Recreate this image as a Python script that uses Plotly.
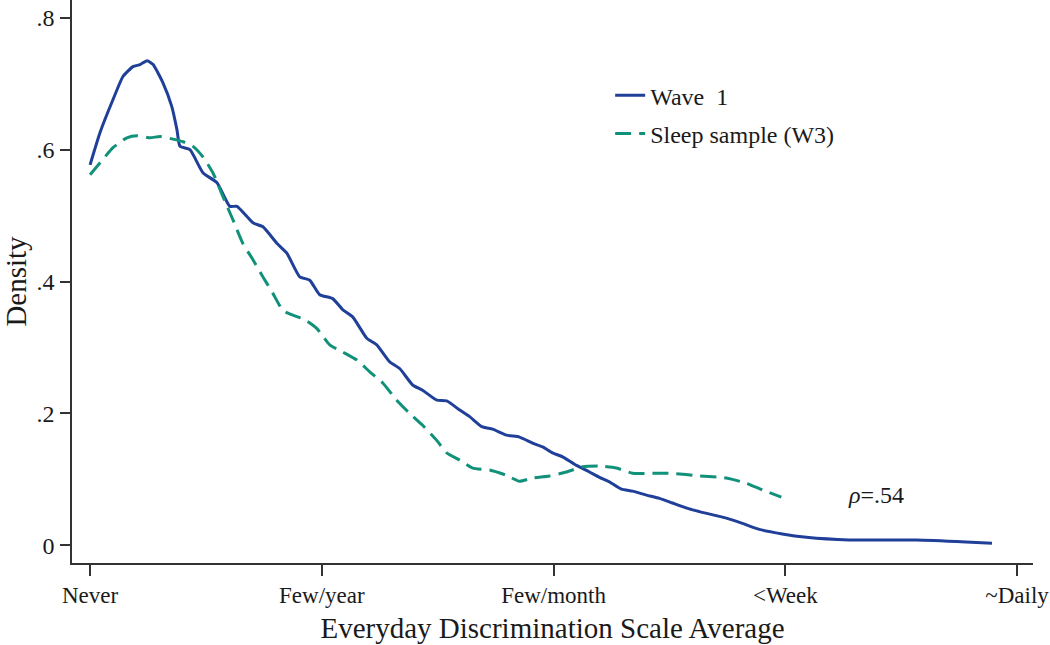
import plotly.graph_objects as go

# Kernel density estimates
# x: 1 = Never ... 5 = ~Daily
wave1_x = [1.000, 1.043, 1.099, 1.142, 1.185, 1.216, 1.246, 1.272, 1.315, 1.353,
           1.375, 1.388, 1.431, 1.487, 1.547, 1.603, 1.634, 1.703, 1.746, 1.806,
           1.849, 1.905, 1.948, 1.991, 2.047, 2.091, 2.134, 2.194, 2.237, 2.293,
           2.336, 2.392, 2.435, 2.496, 2.539, 2.595, 2.638, 2.690, 2.737, 2.797,
           2.853, 2.909, 2.953, 2.996, 3.039, 3.099, 3.155, 3.198, 3.241, 3.293,
           3.341, 3.401, 3.457, 3.513, 3.586, 3.629, 3.746, 3.815, 3.888, 3.987,
           4.091, 4.276, 4.565, 4.780, 4.892]
wave1_y = [0.577, 0.626, 0.676, 0.711, 0.726, 0.729, 0.735, 0.729, 0.701, 0.665,
           0.630, 0.605, 0.600, 0.565, 0.550, 0.514, 0.514, 0.489, 0.483, 0.458,
           0.443, 0.407, 0.402, 0.380, 0.374, 0.357, 0.346, 0.314, 0.304, 0.278,
           0.268, 0.243, 0.235, 0.220, 0.219, 0.205, 0.195, 0.180, 0.176, 0.167,
           0.164, 0.155, 0.149, 0.140, 0.134, 0.121, 0.111, 0.103, 0.096, 0.085,
           0.082, 0.076, 0.071, 0.064, 0.055, 0.051, 0.041, 0.033, 0.024, 0.017,
           0.012, 0.008, 0.008, 0.005, 0.003]

sleep_x = [1.000, 1.043, 1.099, 1.159, 1.203, 1.259, 1.302, 1.358, 1.401, 1.444,
           1.487, 1.530, 1.573, 1.616, 1.659, 1.703, 1.746, 1.789, 1.832, 1.875,
           1.927, 1.978, 2.034, 2.091, 2.151, 2.207, 2.263, 2.323, 2.379, 2.435,
           2.496, 2.539, 2.595, 2.651, 2.724, 2.797, 2.853, 2.909, 2.983, 3.056,
           3.125, 3.198, 3.272, 3.341, 3.427, 3.513, 3.629, 3.746, 3.832, 3.901,
           3.983]
sleep_y = [0.562, 0.580, 0.603, 0.618, 0.621, 0.618, 0.620, 0.616, 0.612, 0.605,
           0.589, 0.565, 0.529, 0.494, 0.458, 0.433, 0.407, 0.382, 0.356, 0.349,
           0.342, 0.329, 0.304, 0.293, 0.281, 0.263, 0.246, 0.220, 0.200, 0.182,
           0.159, 0.140, 0.129, 0.117, 0.114, 0.106, 0.097, 0.102, 0.105, 0.111,
           0.119, 0.120, 0.117, 0.109, 0.109, 0.109, 0.105, 0.102, 0.094, 0.084,
           0.073]

x_ticks = [1, 2, 3, 4, 5]
x_labels = ["Never", "Few/year", "Few/month", "<Week", "~Daily"]
y_ticks = [0, 0.2, 0.4, 0.6, 0.8]
y_labels = ["0", ".2", ".4", ".6", ".8"]

font = "Liberation Serif"
blue = "#1f3f99"
green = "#12917a"
axis_col = "#333333"

fig = go.Figure()
fig.add_trace(go.Scatter(x=wave1_x, y=wave1_y, mode="lines", name="Wave  1",
                         legendgroup="w1",
                         line=dict(color=blue, width=3, shape="spline", smoothing=0.5)))
fig.add_trace(go.Scatter(x=sleep_x, y=sleep_y, mode="lines", name="Sleep sample (W3)",
                         legendgroup="w3",
                         line=dict(color=green, width=3, dash="16px,8px",
                                   shape="spline", smoothing=0.5)))

# correlation between waves
fig.add_annotation(x=4.39, y=0.076, text="<i>ρ</i>=.54", showarrow=False,
                   font=dict(family=font, size=24, color="#1a1a1a"))

fig.update_xaxes(range=[0.922, 5.069], tickvals=x_ticks, ticktext=x_labels,
                 showline=True, linecolor=axis_col, linewidth=1.5,
                 ticks="outside", ticklen=11, tickcolor=axis_col, tickwidth=1.5,
                 ticklabeloverflow="allow",
                 showgrid=False, zeroline=False, automargin=False,
                 title=dict(text="Everyday Discrimination Scale Average", standoff=10),
                 tickfont=dict(size=23))
fig.update_yaxes(range=[-0.027, 0.827], tickvals=y_ticks, ticktext=y_labels,
                 showline=True, linecolor=axis_col, linewidth=1.5,
                 ticks="outside", ticklen=10, tickcolor=axis_col, tickwidth=1.5,
                 ticklabelstandoff=1,
                 showgrid=False, zeroline=False, automargin=False,
                 title=dict(text="Density", standoff=16),
                 tickfont=dict(size=24))

fig.update_layout(
    width=1050, height=645,
    margin=dict(l=72, r=17, t=0, b=82),
    plot_bgcolor="white", paper_bgcolor="white",
    font=dict(family=font, size=24, color="#1a1a1a"),
    showlegend=True,
    legend=dict(x=0.56, y=0.870, xanchor="left", yanchor="top",
                bgcolor="rgba(0,0,0,0)", font=dict(size=24),
                traceorder="grouped", tracegroupgap=4),
)

# drop the default page margin so the figure sits at the window's corner
fig.write_html("out.html", config={"displayModeBar": False},
               post_script="document.body.style.margin='0';")
